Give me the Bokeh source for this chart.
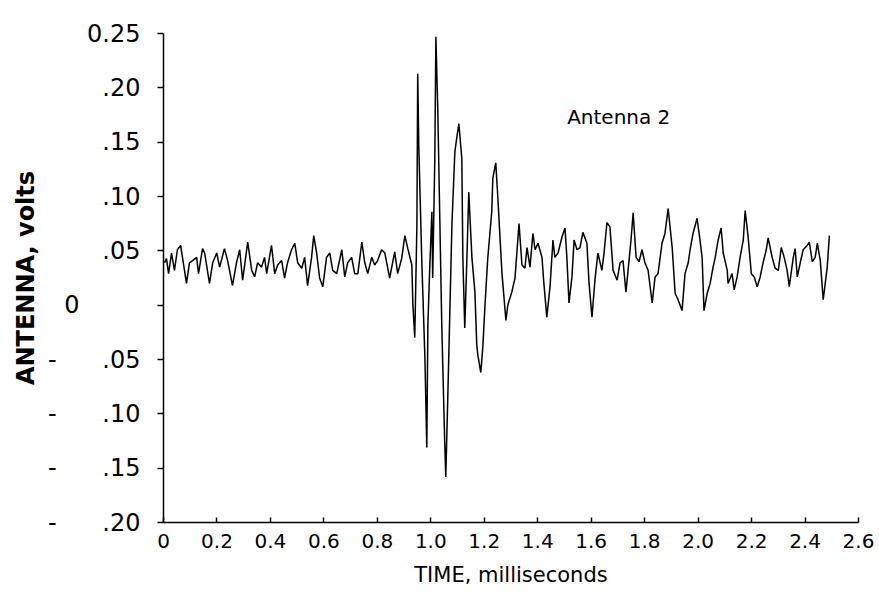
from bokeh.plotting import figure
from bokeh.models import Range1d, FixedTicker, Label
from bokeh.embed import file_html
from bokeh.resources import INLINE

# ---- data ----
time_ms = [
    0.004, 0.011, 0.019, 0.030, 0.041, 0.052, 0.064, 0.071, 0.086, 0.097,
    0.109, 0.124, 0.131, 0.146, 0.154, 0.172, 0.184, 0.199, 0.210, 0.228,
    0.240, 0.258, 0.273, 0.285, 0.296, 0.315, 0.330, 0.341, 0.352, 0.367,
    0.378, 0.386, 0.404, 0.416, 0.427, 0.442, 0.453, 0.464, 0.479, 0.491,
    0.502, 0.517, 0.528, 0.539, 0.554, 0.562, 0.573, 0.584, 0.596, 0.610,
    0.622, 0.633, 0.648, 0.667, 0.678, 0.689, 0.704, 0.715, 0.727, 0.742,
    0.753, 0.764, 0.779, 0.790, 0.801, 0.816, 0.828, 0.846, 0.865, 0.876,
    0.891, 0.903,
    0.914, 0.929, 0.933, 0.940, 0.948, 0.951, 0.955, 0.966, 0.978, 0.985,
    0.989, 0.996, 1.004, 1.007, 1.015, 1.019, 1.026, 1.041, 1.052, 1.056,
    1.064, 1.079, 1.090, 1.097, 1.105, 1.116, 1.120, 1.127, 1.135, 1.142,
    1.154, 1.165, 1.172, 1.176, 1.187, 1.195, 1.202, 1.213, 1.228, 1.232,
    1.243, 1.251, 1.266, 1.281, 1.288, 1.303, 1.315, 1.330,
    1.341, 1.352, 1.360, 1.371, 1.382, 1.390, 1.401, 1.416, 1.423, 1.434,
    1.446, 1.457, 1.464, 1.476, 1.491, 1.502, 1.509, 1.517, 1.528, 1.536,
    1.547, 1.558, 1.569, 1.584, 1.592, 1.603, 1.614, 1.625, 1.640, 1.648,
    1.659, 1.670, 1.682, 1.697, 1.708, 1.719, 1.730, 1.738, 1.749, 1.757,
    1.768, 1.779, 1.790, 1.801, 1.813, 1.828, 1.839, 1.850, 1.865, 1.876,
    1.888, 1.903, 1.914, 1.925, 1.940, 1.951, 1.963,
    1.970, 1.981, 1.996, 2.007, 2.015, 2.022, 2.034, 2.045, 2.056, 2.064,
    2.075, 2.086, 2.094, 2.109, 2.112, 2.127, 2.135, 2.146, 2.157, 2.169,
    2.176, 2.187, 2.199, 2.210, 2.221, 2.232, 2.243, 2.255, 2.262, 2.277,
    2.288, 2.300, 2.311, 2.322, 2.333, 2.341, 2.356, 2.363, 2.371, 2.382,
    2.393, 2.408, 2.416, 2.427, 2.438, 2.446, 2.457, 2.468, 2.483, 2.491,
]
antenna_volts = [
    0.039, 0.043, 0.029, 0.048, 0.032, 0.051, 0.055, 0.044, 0.020, 0.039,
    0.041, 0.044, 0.029, 0.052, 0.048, 0.020, 0.039, 0.048, 0.035, 0.052,
    0.041, 0.018, 0.039, 0.051, 0.023, 0.058, 0.032, 0.026, 0.039, 0.035,
    0.044, 0.029, 0.055, 0.029, 0.037, 0.041, 0.025, 0.039, 0.051, 0.057,
    0.039, 0.034, 0.044, 0.018, 0.044, 0.064, 0.048, 0.025, 0.017, 0.044,
    0.048, 0.032, 0.029, 0.051, 0.026, 0.039, 0.044, 0.029, 0.029, 0.058,
    0.039, 0.029, 0.044, 0.037, 0.041, 0.051, 0.048, 0.025, 0.049, 0.029,
    0.043, 0.064,
    0.052, 0.037, 0.000, -0.030, 0.074, 0.213, 0.147, 0.043, -0.049, -0.131,
    -0.018, 0.034, 0.086, 0.025, 0.135, 0.247, 0.181, -0.018, -0.126, -0.158,
    -0.080, 0.074, 0.141, 0.154, 0.167, 0.135, 0.043, -0.021, 0.043, 0.104,
    0.043, 0.012, -0.037, -0.046, -0.062, -0.037, -0.003, 0.043, 0.086, 0.117,
    0.131, 0.098, 0.030, -0.014, 0.000, 0.012, 0.025, 0.075,
    0.037, 0.034, 0.053, 0.035, 0.066, 0.051, 0.057, 0.044, 0.020, -0.011,
    0.017, 0.060, 0.044, 0.048, 0.063, 0.071, 0.044, 0.002, 0.026, 0.060,
    0.051, 0.053, 0.067, 0.057, 0.020, -0.011, 0.023, 0.048, 0.032, 0.048,
    0.076, 0.072, 0.032, 0.023, 0.039, 0.041, 0.012, 0.032, 0.060, 0.085,
    0.044, 0.040, 0.051, 0.039, 0.032, 0.002, 0.026, 0.029, 0.057, 0.066,
    0.089, 0.053, 0.011, 0.005, -0.005, 0.029, 0.039,
    0.051, 0.066, 0.080, 0.060, 0.044, -0.005, 0.011, 0.020, 0.035, 0.044,
    0.060, 0.071, 0.048, 0.032, 0.020, 0.029, 0.014, 0.026, 0.044, 0.060,
    0.087, 0.063, 0.029, 0.026, 0.017, 0.026, 0.039, 0.051, 0.062, 0.044,
    0.034, 0.032, 0.053, 0.044, 0.032, 0.017, 0.044, 0.052, 0.026, 0.039,
    0.051, 0.055, 0.058, 0.040, 0.044, 0.057, 0.041, 0.005, 0.035, 0.064,
]

x_ticks = [0.0, 0.2, 0.4, 0.6, 0.8, 1.0, 1.2, 1.4, 1.6, 1.8, 2.0, 2.2, 2.4, 2.6]
x_tick_labels = ["0", "0.2", "0.4", "0.6", "0.8", "1.0", "1.2", "1.4", "1.6",
                 "1.8", "2.0", "2.2", "2.4", "2.6"]
y_ticks = [0.25, 0.20, 0.15, 0.10, 0.05, 0.0, -0.05, -0.10, -0.15, -0.20]
NB = "\u00a0"
y_tick_labels = ["0.25", ".20", ".15", ".10", ".05", "0" + NB * 8,
                 "-" + NB * 6 + ".05", "-" + NB * 6 + ".10",
                 "-" + NB * 6 + ".15", "-" + NB * 6 + ".20"]
annotation_text = "Antenna 2"
annotation_x = 1.51
annotation_y = 0.173

FONT = "DejaVu Sans"

p = figure(width=879, height=605, output_backend="svg", toolbar_location=None,
           x_range=Range1d(0, 2.6), y_range=Range1d(-0.20, 0.25),
           min_border_left=163, min_border_right=21, min_border_top=33,
           min_border_bottom=83)
p.outline_line_color = None
p.background_fill_color = "white"
p.border_fill_color = "white"
p.xgrid.visible = False
p.ygrid.visible = False

p.line(time_ms, antenna_volts, line_color="black", line_width=1.5)

p.add_layout(Label(x=annotation_x, y=annotation_y, text=annotation_text,
                   text_font=FONT, text_font_size="20px", text_color="black",
                   text_baseline="middle", text_align="left"))

# x axis
xa = p.xaxis[0]
xa.ticker = FixedTicker(ticks=x_ticks)
xa.major_label_overrides = {t: l for t, l in zip(x_ticks, x_tick_labels)}
xa.minor_tick_line_color = None
xa.major_tick_in = 5
xa.major_tick_out = 0
xa.axis_line_width = 1.5
xa.major_tick_line_width = 1.5
xa.axis_line_color = "black"
xa.major_label_text_font = FONT
xa.major_label_text_font_size = "20px"
xa.major_label_text_color = "black"
xa.major_label_standoff = 11
xa.axis_label = "TIME, milliseconds"
xa.axis_label_text_font = FONT
xa.axis_label_text_font_size = "21px"
xa.axis_label_text_font_style = "normal"
xa.axis_label_text_color = "black"
xa.axis_label_standoff = 12

# y axis
ya = p.yaxis[0]
ya.ticker = FixedTicker(ticks=y_ticks)
ya.major_label_overrides = {t: l for t, l in zip(y_ticks, y_tick_labels)}
ya.minor_tick_line_color = None
ya.major_tick_in = 0
ya.major_tick_out = 6
ya.axis_line_width = 1.5
ya.major_tick_line_width = 1.5
ya.axis_line_color = "black"
ya.major_label_text_font = FONT
ya.major_label_text_font_size = "24px"
ya.major_label_text_color = "black"
ya.major_label_standoff = 17
ya.axis_label = "ANTENNA, volts"
ya.axis_label_text_font = FONT
ya.axis_label_text_font_size = "24px"
ya.axis_label_text_font_style = "bold"
ya.axis_label_text_color = "black"
ya.axis_label_standoff = 5

open("out.html", "w").write(file_html(p, INLINE))
